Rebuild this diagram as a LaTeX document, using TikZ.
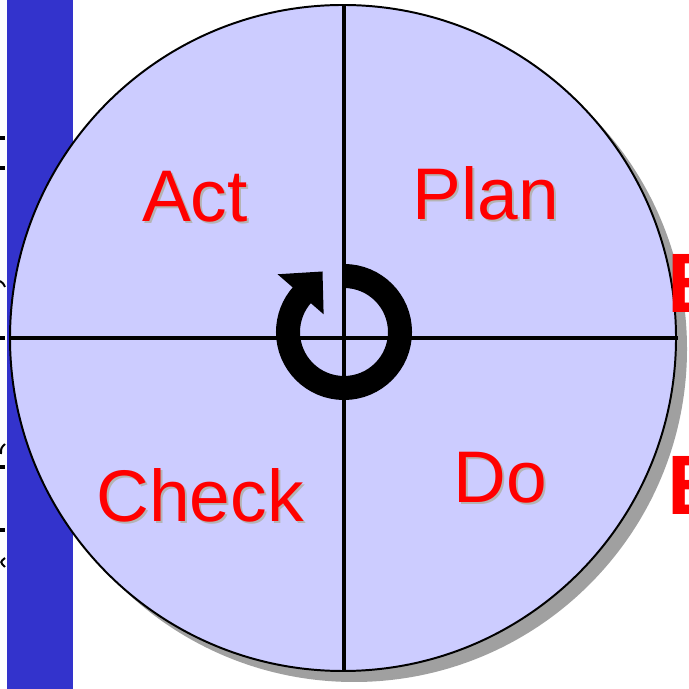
\documentclass[tikz,border=0pt]{standalone}
\usepackage{xcolor}
\usepackage{fontspec}
\setmainfont{Liberation Sans}
\usepackage{tikz}
\usetikzlibrary{calc}
\definecolor{barblue}{HTML}{3333CC}
\definecolor{disclav}{HTML}{CCCCFF}
\definecolor{discshadow}{HTML}{A0A0A0}
\definecolor{txtshadow}{HTML}{B4B4B4}

\begin{document}
\begin{tikzpicture}[
  x=0.025cm, y=0.025cm,
  phase/.style={text=#1, font=\fontsize{52}{60}\selectfont, anchor=base, inner sep=0pt},
  cross/.style={line width=2.4pt, black},
  edgeletter/.style={text=red, font=\fontsize{60}{70}\selectfont\bfseries, anchor=base west, inner sep=0pt},
  tick/.style={line width=2.2pt, black}
]
  \useasboundingbox (0,0) rectangle (689,689);

  % ── side bar ────────────────────────────────────────────────────────────
  \fill[barblue] (7,0) rectangle (73,689);
  \coordinate (t1) at (0,551); \coordinate (t1e) at (5,551);
  \coordinate (t2) at (0,521); \coordinate (t2e) at (5,521);
  \coordinate (t3) at (0,351); \coordinate (t3e) at (5,351);
  \coordinate (t4) at (0,222); \coordinate (t4e) at (5,222);
  \coordinate (t5) at (0,159); \coordinate (t5e) at (5,159);
  \draw[tick] (t1) -- (t1e);
  \draw[tick] (t2) -- (t2e);
  \draw[tick] (t3) -- (t3e);
  \draw[tick] (t4) -- (t4e);
  \draw[tick] (t5) -- (t5e);
  \draw[tick, line width=1.4pt] (0,408) .. controls (3,406) .. (5,402);
  \draw[tick, line width=1.4pt] (5,245) .. controls (1,241) .. (1,235);
  \draw[tick, line width=1.4pt] (5,131) .. controls (0,127) .. (5,122);

  % ── disc ────────────────────────────────────────────────────────────────
  \coordinate (c) at (343,351);
  \fill[discshadow] ($(c)+(11,-11)$) circle[radius=333];
  \filldraw[fill=disclav, draw=black, line width=1.4pt] (c) circle[radius=333];
  \coordinate (west)  at (10,351);
  \coordinate (east)  at (678,351);
  \coordinate (north) at (344,684);
  \coordinate (south) at (344,19);
  \draw[cross] (west) -- (east);
  \draw[cross] (north) -- (south);

  % ── cycle arrow ─────────────────────────────────────────────────────────
  \coordinate (ring) at (344,357);
  \draw[line width=0.6cm, black] ($(ring)+(90:56)$) arc[start angle=90, end angle=-222, radius=56];
  \fill[black] ($(ring)+(139:88)$) -- (322.5,417.5) -- ($(ring)+(139:27)$) -- cycle;

  % ── phases ──────────────────────────────────────────────────────────────
  \node[phase=txtshadow] (act-sh)   at (197,465) {Act};
  \node[phase=red]       (act)      at (195,467) {Act};
  \node[phase=txtshadow] (plan-sh)  at (488,467) {Plan};
  \node[phase=red]       (plan)     at (486,469) {Plan};
  \node[phase=txtshadow] (check-sh) at (202,165) {Check};
  \node[phase=red]       (check)    at (200,167) {Check};
  \node[phase=txtshadow] (do-sh)    at (502,184) {Do};
  \node[phase=red]       (do)       at (500,186) {Do};

  % ── cut-off letters ─────────────────────────────────────────────────────
  \node[edgeletter] (e1) at (667,376) {E};
  \node[edgeletter] (e2) at (667,174) {E};
\end{tikzpicture}
\end{document}
